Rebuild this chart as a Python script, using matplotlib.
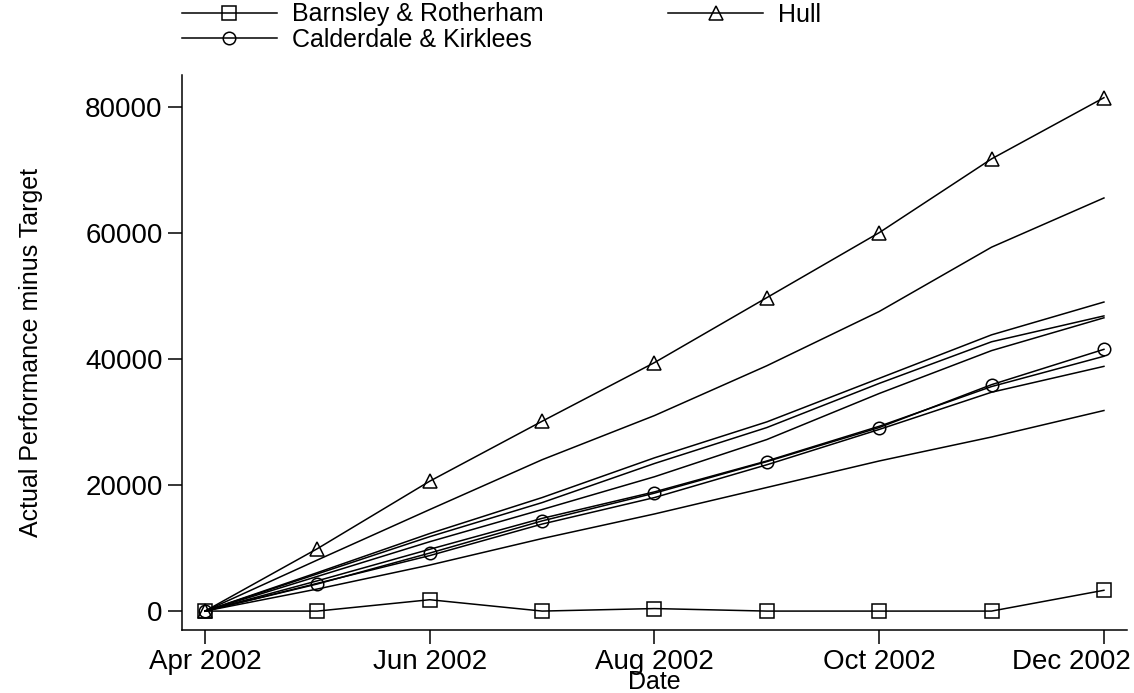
import numpy as np
import matplotlib
matplotlib.use("Agg")
import matplotlib.pyplot as plt
import matplotlib.transforms as mtransforms

plt.rcParams['font.family'] = ['Liberation Sans', 'DejaVu Sans']

# monthly series, Apr 2002 .. Dec 2002
months = ["Apr 2002", "May 2002", "Jun 2002", "Jul 2002", "Aug 2002",
          "Sep 2002", "Oct 2002", "Nov 2002", "Dec 2002"]
tick_months = ["Apr 2002", "Jun 2002", "Aug 2002", "Oct 2002", "Dec 2002"]

barnsley = [0, 0, 1800, 0, 400, 0, 0, 0, 3300]
hull = [0, 9900, 20600, 30100, 39400, 49700, 60000, 71700, 81400]
calderdale = [0, 4300, 9200, 14300, 18700, 23700, 29100, 35900, 41500]

# remaining trusts (not labelled)
others = [
    [0, 8100, 16100, 24000, 31000, 38900, 47500, 57700, 65500],
    [0, 6100, 12300, 18000, 24300, 30000, 36900, 43800, 49000],
    [0, 5900, 11800, 17200, 23400, 29100, 36100, 42700, 46800],
    [0, 5500, 11000, 16100, 21300, 27200, 34500, 41300, 46500],
    [0, 4800, 9800, 14700, 18900, 23800, 29300, 35600, 40400],
    [0, 4400, 8800, 13800, 18000, 23200, 28800, 34700, 38800],
    [0, 3500, 7300, 11500, 15400, 19600, 23800, 27600, 31800],
]

x = np.arange(len(months))
lw = 1.1

fig = plt.figure(figsize=(11.34, 6.93), dpi=100)
ax = fig.add_axes([0.1605, 0.0909, 0.8333, 0.8009])

for ys in others:
    ax.plot(x, ys, color='black', linewidth=lw, label='_nolegend_')

ax.plot(x, barnsley, color='black', linewidth=lw, marker='s', markersize=10,
        mfc='none', mec='black', mew=1.1, label='Barnsley & Rotherham')
ax.plot(x, calderdale, color='black', linewidth=lw, marker='o', markersize=9,
        mfc='none', mec='black', mew=1.1, label='Calderdale & Kirklees')
ax.plot(x, hull, color='black', linewidth=lw, marker='^', markersize=10.5,
        mfc='none', mec='black', mew=1.1, label='Hull')

ax.set_xlim(-0.205, 8.205)
ax.set_ylim(-3000, 85000)

ax.set_xticks([months.index(m) for m in tick_months])
ax.set_xticklabels(tick_months)
ax.set_yticks([0, 20000, 40000, 60000, 80000])
ax.set_yticklabels(['0', '20000', '40000', '60000', '80000'])

ax.spines['top'].set_visible(False)
ax.spines['right'].set_visible(False)
for s in ('left', 'bottom'):
    ax.spines[s].set_linewidth(1.1)
ax.tick_params(axis='both', direction='out', length=10, width=1.1,
               labelsize=20, pad=4)

# keep the last date label inside the figure
last = ax.get_xticklabels()[-1]
last.set_horizontalalignment('right')
last.set_transform(last.get_transform() +
                   mtransforms.ScaledTranslation(0.27, 0, fig.dpi_scale_trans))

ax.set_xlabel('Date', fontsize=18, labelpad=-4)
ax.set_ylabel('Actual Performance minus Target', fontsize=18, labelpad=30)

fig.legend(loc='upper left', bbox_to_anchor=(0.158, 1.0), ncol=2,
           frameon=False, fontsize=18, handlelength=3.8, handletextpad=0.6,
           columnspacing=5.0, labelspacing=0.05, borderpad=0.1,
           borderaxespad=0)

fig.savefig('out.png', dpi=100)
